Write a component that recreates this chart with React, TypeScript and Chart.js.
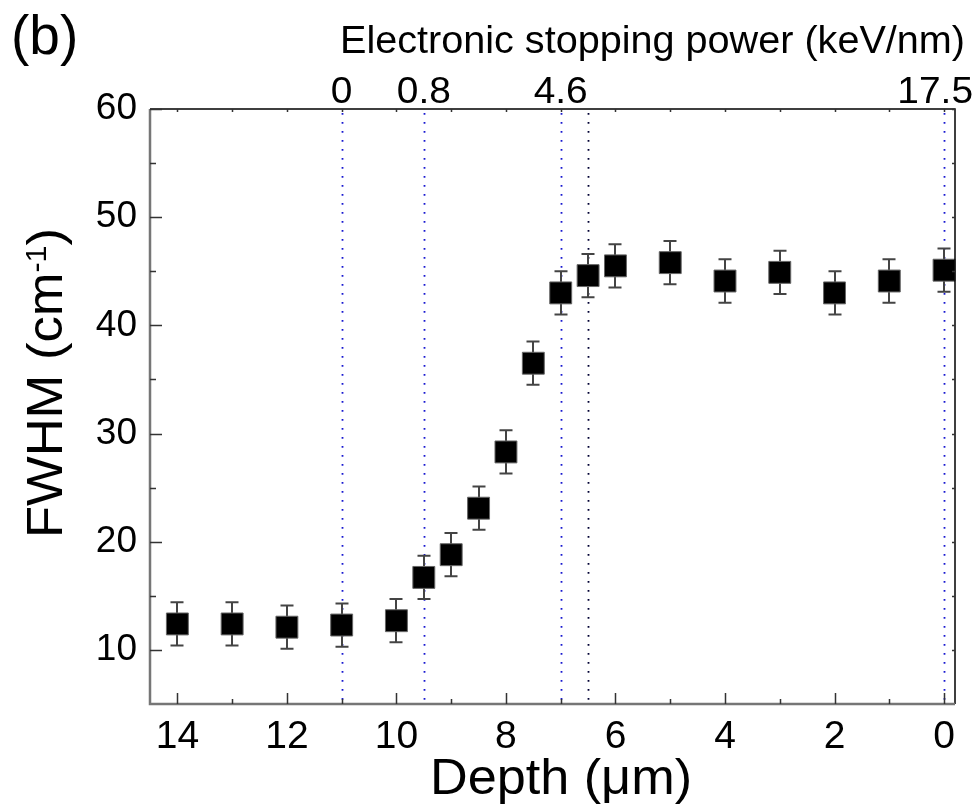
import React, { useEffect, useRef } from 'react';
import { Chart, registerables } from 'chart.js';

Chart.register(...registerables);

// ---- data ----
const depths = [14, 13, 12, 11, 10, 9.5, 9, 8.5, 8, 7.5, 7, 6.5, 6, 5, 4, 3, 2, 1, 0];
const fwhm = [12.4, 12.4, 12.1, 12.3, 12.7, 16.7, 18.8, 23.1, 28.3, 36.5, 43.0, 44.6, 45.5, 45.8, 44.1, 44.9, 43.0, 44.1, 45.1];
const fwhmErr = [2.0, 2.0, 2.0, 2.0, 2.0, 2.0, 2.0, 2.0, 2.0, 2.0, 2.0, 2.0, 2.0, 2.0, 2.0, 2.0, 2.0, 2.0, 2.0];
const depthTicks = [14, 12, 10, 8, 6, 4, 2, 0];
const depthMinorTicks = [13, 11, 9, 7, 5, 3, 1];
const depthTopTicks = [14, 13, 12, 11, 10, 9, 8, 7, 6, 5, 4, 3, 2, 1, 0];
const fwhmTicks = [10, 20, 30, 40, 50, 60];
const fwhmMinorTicks = [15, 25, 35, 45, 55];
const stoppingDepths = [11, 9.5, 7, 0];
const stoppingLabels = ['0', '0.8', '4.6', '17.5'];
const markerDepths = [6.5];

const FONT = '"Liberation Sans", Arial, Helvetica, sans-serif';

function fillStretched(ctx: any, text: string, x: number, y: number, width: number, align: string) {
  const w = ctx.measureText(text).width;
  const sx = width / w;
  ctx.save();
  ctx.translate(x, y);
  ctx.scale(sx, 1);
  ctx.textAlign = align;
  ctx.fillText(text, 0, 0);
  ctx.restore();
}

const overlay = {
  id: 'overlay',
  beforeDatasetsDraw(chart: any) {
    const { ctx, chartArea: a, scales } = chart;
    const x = scales.x;
    const y = scales.y;
    ctx.save();
    // dotted vertical lines
    ctx.lineWidth = 1.8;
    ctx.setLineDash([1.8, 7.2]);
    stoppingDepths.forEach((d) => {
      const px = Math.round(x.getPixelForValue(d)) + 0.5;
      ctx.strokeStyle = '#1818d0';
      ctx.beginPath();
      ctx.moveTo(px, a.top + 4);
      ctx.lineTo(px, a.bottom);
      ctx.stroke();
    });
    markerDepths.forEach((d) => {
      const px = Math.round(x.getPixelForValue(d)) + 0.5;
      ctx.strokeStyle = '#000033';
      ctx.beginPath();
      ctx.moveTo(px, a.top + 4);
      ctx.lineTo(px, a.bottom);
      ctx.stroke();
    });
    ctx.setLineDash([]);
    // error bars
    ctx.strokeStyle = '#444';
    ctx.lineWidth = 2;
    depths.forEach((d, i) => {
      const px = Math.round(x.getPixelForValue(d));
      const t = y.getPixelForValue(fwhm[i] + fwhmErr[i]);
      const b = y.getPixelForValue(fwhm[i] - fwhmErr[i]);
      ctx.beginPath();
      ctx.moveTo(px, t);
      ctx.lineTo(px, b);
      ctx.moveTo(px - 6.5, t);
      ctx.lineTo(px + 6.5, t);
      ctx.moveTo(px - 6.5, b);
      ctx.lineTo(px + 6.5, b);
      ctx.stroke();
    });
    ctx.restore();
  },
  afterDatasetsDraw(chart: any) {
    const { ctx, chartArea: a, scales } = chart;
    const x = scales.x;
    const y = scales.y;
    ctx.save();
    // frame
    ctx.lineWidth = 1.5;
    ctx.strokeStyle = '#000';
    ctx.beginPath();
    ctx.moveTo(a.left, a.top);
    ctx.lineTo(a.right, a.top);
    ctx.lineTo(a.right, a.bottom);
    ctx.stroke();
    ctx.lineWidth = 2.5;
    ctx.strokeStyle = '#767676';
    ctx.beginPath();
    ctx.moveTo(a.left, a.top);
    ctx.lineTo(a.left, a.bottom);
    ctx.lineTo(a.right, a.bottom);
    ctx.stroke();
    // ticks
    ctx.strokeStyle = '#333';
    ctx.lineWidth = 1.5;
    ctx.beginPath();
    depthTicks.forEach((d) => {
      const px = Math.round(x.getPixelForValue(d)) + 0.5;
      ctx.moveTo(px, a.bottom);
      ctx.lineTo(px, a.bottom - 11);
    });
    depthMinorTicks.forEach((d) => {
      const px = Math.round(x.getPixelForValue(d)) + 0.5;
      ctx.moveTo(px, a.bottom);
      ctx.lineTo(px, a.bottom - 5);
    });
    depthTopTicks.forEach((d) => {
      const px = Math.round(x.getPixelForValue(d)) + 0.5;
      ctx.moveTo(px, a.top);
      ctx.lineTo(px, a.top + 3);
    });
    fwhmTicks.forEach((v) => {
      const py = Math.round(y.getPixelForValue(v)) + 0.5;
      ctx.moveTo(a.left, py);
      ctx.lineTo(a.left + 12, py);
      ctx.moveTo(a.right, py);
      ctx.lineTo(a.right - 3, py);
    });
    fwhmMinorTicks.forEach((v) => {
      const py = Math.round(y.getPixelForValue(v)) + 0.5;
      ctx.moveTo(a.left, py);
      ctx.lineTo(a.left + 6, py);
      ctx.moveTo(a.right, py);
      ctx.lineTo(a.right - 3, py);
    });
    ctx.stroke();

    // texts
    ctx.fillStyle = '#000';
    ctx.textBaseline = 'alphabetic';
    ctx.textAlign = 'left';
    ctx.font = `55px ${FONT}`;
    ctx.fillText('(b)', 11, 54);

    ctx.font = `39px ${FONT}`;
    fillStretched(ctx, 'Electronic stopping power (keV/nm)', 340, 53, 625, 'left');

    ctx.font = `36px ${FONT}`;
    stoppingDepths.forEach((d, i) => {
      let px = x.getPixelForValue(d);
      const w = ctx.measureText(stoppingLabels[i]).width * 1.08;
      if (px + w / 2 > 973) px = 973 - w / 2;
      fillStretched(ctx, stoppingLabels[i], px, 103, w, 'center');
    });

    ctx.font = `50px ${FONT}`;
    fillStretched(ctx, 'Depth (\u03bcm)', 430, 794, 262, 'left');

    // y title (rotated)
    ctx.save();
    ctx.translate(62, 538);
    ctx.rotate(-Math.PI / 2);
    ctx.textAlign = 'left';
    ctx.font = `50px ${FONT}`;
    const main = 'FWHM (cm';
    const wMain = ctx.measureText(main).width;
    const wClose = ctx.measureText(')').width;
    ctx.font = `29px ${FONT}`;
    const wSup = ctx.measureText('-1').width;
    const total = wMain + wSup + wClose;
    const sx = 310 / total;
    ctx.scale(sx, 1);
    ctx.font = `50px ${FONT}`;
    ctx.fillText(main, 0, 0);
    ctx.font = `29px ${FONT}`;
    ctx.fillText('-1', wMain, -16);
    ctx.font = `50px ${FONT}`;
    ctx.fillText(')', wMain + wSup, 0);
    ctx.restore();

    ctx.restore();
  },
};

export default function App() {
  const ref = useRef<HTMLCanvasElement | null>(null);
  useEffect(() => {
    if (!ref.current) return;
    const chart = new Chart(ref.current, {
      type: 'scatter',
      data: {
        datasets: [
          {
            label: 'FWHM',
            data: depths.map((d, i) => ({ x: d, y: fwhm[i] })),
            pointStyle: 'rect',
            pointRadius: 15.5,
            pointHoverRadius: 15.5,
            backgroundColor: '#000',
            borderColor: '#666',
            borderWidth: 1,
            showLine: false,
            clip: false,
          } as any,
        ],
      },
      options: {
        animation: false,
        responsive: false,
        events: [],
        layout: { padding: { left: 0, right: 24, top: 109, bottom: 0 } },
        plugins: { legend: { display: false }, tooltip: { enabled: false } },
        scales: {
          x: {
            type: 'linear',
            position: 'bottom',
            reverse: true,
            min: -0.2,
            max: 14.5,
            afterBuildTicks: (s: any) => {
              s.ticks = depthTicks.map((v) => ({ value: v }));
            },
            afterFit: (s: any) => {
              s.height = 106;
            },
            grid: { display: false, drawTicks: false },
            border: { display: false },
            ticks: {
              color: '#000',
              font: { family: FONT, size: 39 },
              padding: 10,
              maxRotation: 0,
              autoSkip: false,
            },
          },
          y: {
            type: 'linear',
            position: 'left',
            min: 5,
            max: 60,
            afterBuildTicks: (s: any) => {
              s.ticks = fwhmTicks.map((v) => ({ value: v }));
            },
            afterFit: (s: any) => {
              s.width = 150;
            },
            grid: { display: false, drawTicks: false },
            border: { display: false },
            ticks: {
              color: '#000',
              font: { family: FONT, size: 37 },
              padding: 13,
              autoSkip: false,
            },
          },
        },
      },
      plugins: [overlay],
    } as any);
    return () => chart.destroy();
  }, []);
  return (
    <div style={{ position: 'fixed', left: 0, top: 0, width: 979, height: 810, background: '#fff' }}>
      <canvas ref={ref} width={979} height={810} style={{ display: 'block' }} />
    </div>
  );
}
